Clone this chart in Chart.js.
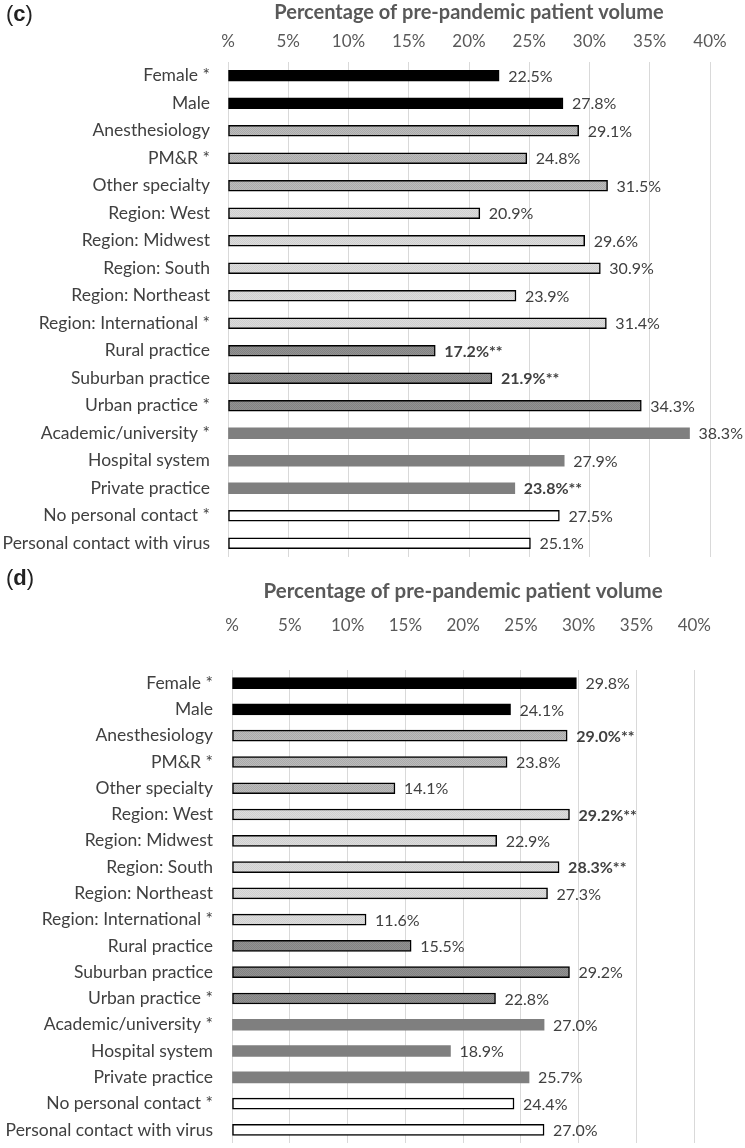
<!DOCTYPE html>
<html>
<head>
<meta charset="utf-8">
<script src="https://cdn.jsdelivr.net/npm/chart.js@4/dist/chart.umd.min.js"></script>
<style>
  html, body { margin: 0; padding: 0; background: #fff; }
  body { width: 745px; height: 1148px; position: relative; overflow: hidden; font-family: Lato, "Liberation Sans", sans-serif; }
  .panel { position: absolute; left: 0; width: 745px; }
  .tag { position: absolute; left: 6px; font-size: 22px; color: #222; font-family: "Liberation Sans", sans-serif; }
  .tag b { font-weight: bold; }
</style>
</head>
<body>
<div class="panel" style="top:0;height:560px;"><canvas id="chartC" width="745" height="560"></canvas></div>
<div class="panel" style="top:560px;height:588px;"><canvas id="chartD" width="745" height="588"></canvas></div>
<div class="tag" style="top:1px;">(<b>c</b>)</div>
<div class="tag" style="top:565px;">(<b>d</b>)</div>
<script>
// --- 데이터 ---
const categories = ['Female *', 'Male', 'Anesthesiology', 'PM&R *', 'Other specialty',
  'Region: West', 'Region: Midwest', 'Region: South', 'Region: Northeast', 'Region: International *',
  'Rural practice', 'Suburban practice', 'Urban practice *', 'Academic/university *',
  'Hospital system', 'Private practice', 'No personal contact *', 'Personal contact with virus'];

const valuesC = [22.5, 27.8, 29.1, 24.8, 31.5, 20.9, 29.6, 30.9, 23.9, 31.4, 17.2, 21.9, 34.3, 38.3, 27.9, 23.8, 27.5, 25.1];
const signifC = [false, false, false, false, false, false, false, false, false, false, true, true, false, false, false, true, false, false];

const valuesD = [29.8, 24.1, 29.0, 23.8, 14.1, 29.2, 22.9, 28.3, 27.3, 11.6, 15.5, 29.2, 22.8, 27.0, 18.9, 25.7, 24.4, 27.0];
const signifD = [false, false, true, false, false, true, false, true, false, false, false, false, false, false, false, false, false, false];

const tickLabels = ['%', '5%', '10%', '15%', '20%', '25%', '30%', '35%', '40%'];
const axisTitle = 'Percentage of pre-pandemic patient volume';

// --- 스타일 ---
function makePattern(base, dot) {
  const c = document.createElement('canvas');
  c.width = 2; c.height = 2;
  const g = c.getContext('2d');
  g.fillStyle = base; g.fillRect(0, 0, 2, 2);
  g.fillStyle = dot; g.fillRect(0, 0, 1, 1); g.fillRect(1, 1, 1, 1);
  return g.createPattern(c, 'repeat');
}
const specPat = makePattern('#bcbcbc', '#aaaaaa');
const regionPat = makePattern('#dcdcdc', '#d0d0d0');
const locPat = makePattern('#929292', '#828282');

// 카테고리 순서대로 그룹별 색
const fills = ['#000', '#000', specPat, specPat, specPat, regionPat, regionPat, regionPat, regionPat, regionPat,
  locPat, locPat, locPat, '#7f7f7f', '#7f7f7f', '#7f7f7f', '#fff', '#fff'];
const borders = fills.map((f, i) => (i >= 13 && i <= 15) ? 0 : 1.5);

const font = 'Lato, "Liberation Sans", sans-serif';

const valueLabels = {
  id: 'valueLabels',
  afterDatasetsDraw(chart, args, opts) {
    const { ctx } = chart;
    const meta = chart.getDatasetMeta(0);
    ctx.save();
    ctx.textBaseline = 'middle';
    ctx.textAlign = 'left';
    ctx.fillStyle = '#404040';
    meta.data.forEach((bar, i) => {
      const v = chart.data.datasets[0].data[i];
      const bold = opts.signif[i];
      ctx.font = (bold ? 'bold ' : '') + '16px ' + font;
      ctx.fillText(v.toFixed(1) + '%' + (bold ? '**' : ''), bar.x + 9, bar.y + 1);
    });
    ctx.restore();
  }
};

function makeChart(id, values, signif, box) {
  return new Chart(document.getElementById(id), {
    type: 'bar',
    data: {
      labels: categories,
      datasets: [{
        data: values,
        backgroundColor: fills,
        borderColor: '#000',
        borderWidth: borders,
        borderSkipped: false,
        barThickness: box.bar
      }]
    },
    plugins: [valueLabels],
    options: {
      indexAxis: 'y',
      responsive: false,
      animation: false,
      layout: { padding: { left: 0, right: 745 - box.right, top: 0, bottom: box.h - box.bottom } },
      plugins: {
        legend: { display: false },
        tooltip: { enabled: false },
        valueLabels: { signif: signif }
      },
      scales: {
        x: {
          position: 'top',
          min: 0, max: 40,
          afterFit(s) { s.height = box.top; },
          ticks: {
            stepSize: 5,
            padding: box.tickPad,
            color: '#595959',
            font: { family: font, size: 17 },
            callback: (v) => tickLabels[v / 5]
          },
          grid: { color: '#d9d9d9', lineWidth: 1, drawTicks: false },
          border: { display: false },
          title: {
            display: true,
            text: axisTitle,
            color: '#595959',
            font: { family: font, size: box.titleSize, weight: 'bold' },
            padding: { top: box.titlePad, bottom: 0 }
          }
        },
        y: {
          afterFit(s) {
            s.width = box.left;
            s.paddingTop = 0;
            s.paddingBottom = 0;
          },
          ticks: {
            padding: box.labelPad,
            color: '#404040',
            font: { family: font, size: 17.5 }
          },
          grid: { display: false },
          border: { display: false }
        }
      }
    }
  });
}

makeChart('chartC', valuesC, signifC, { left: 228, right: 710, top: 62, bottom: 557, h: 560, bar: 11, tickPad: 10, titlePad: 1, titleSize: 20, labelPad: 10 });
makeChart('chartD', valuesD, signifD, { left: 232, right: 724, top: 110, bottom: 583, h: 588, bar: 11, tickPad: 34, titlePad: 19, titleSize: 20.5, labelPad: 11 });
</script>
</body>
</html>
